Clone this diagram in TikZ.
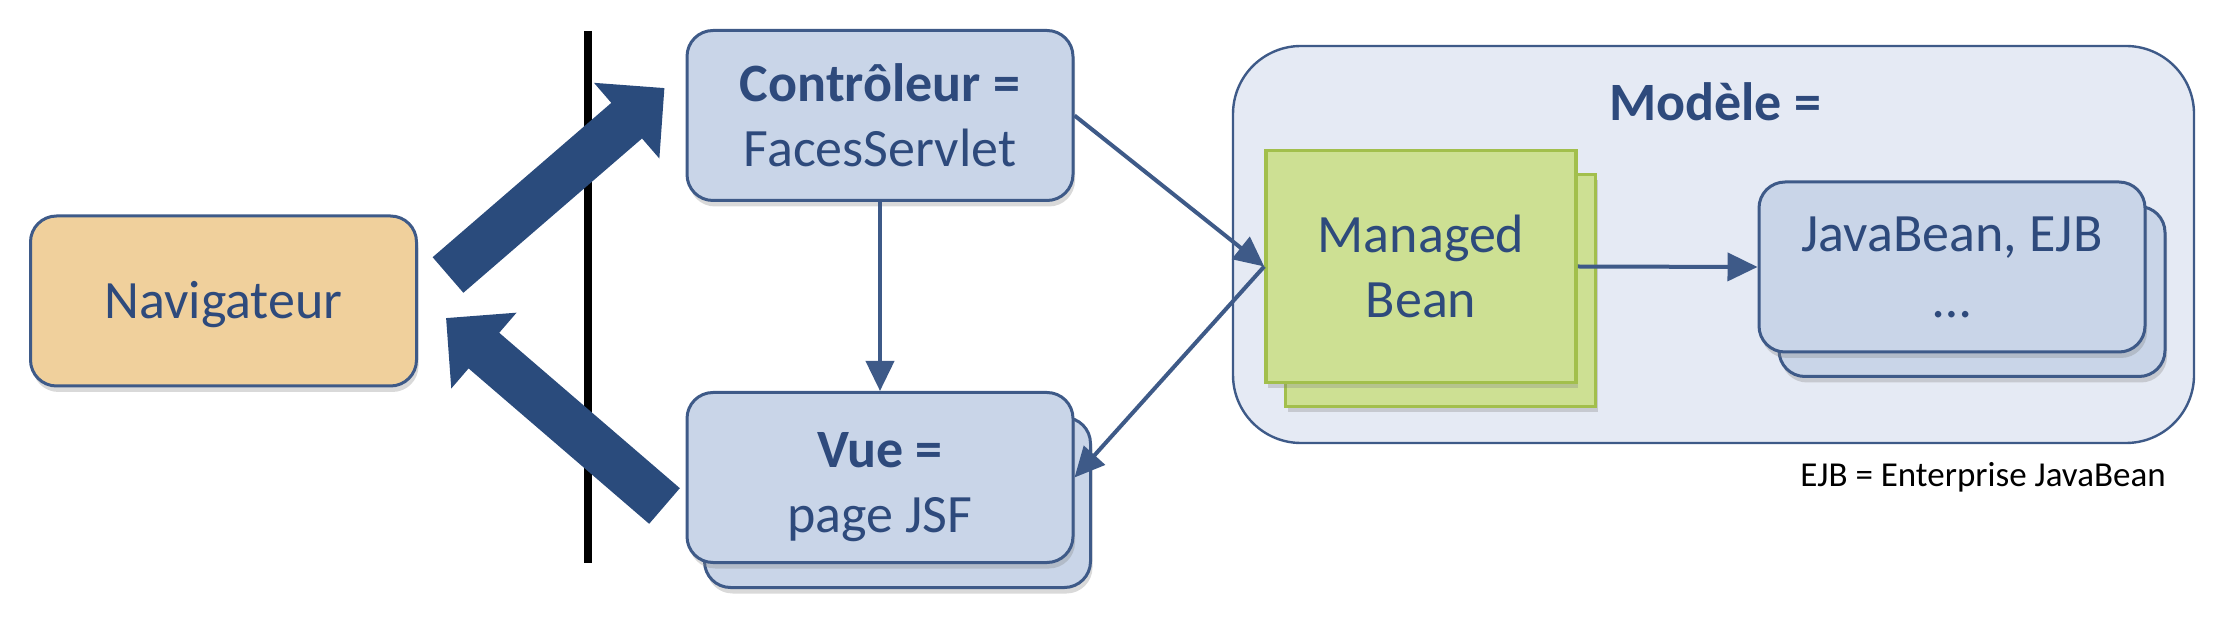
\documentclass[tikz,border=0pt]{standalone}
\usepackage{fontspec}
\setmainfont{Carlito}
\usetikzlibrary{arrows.meta,shadows,calc}
\definecolor{txtblue}{HTML}{2E4A7C}
\definecolor{edgeblue}{HTML}{3E5A88}
\definecolor{arrowblue}{HTML}{2A4B7C}
\definecolor{boxblue}{HTML}{C9D5E8}
\definecolor{modelfill}{HTML}{E5EAF4}
\definecolor{navfill}{HTML}{F0D09C}
\definecolor{beanfill}{HTML}{CDE093}
\definecolor{beanedge}{HTML}{A2BF4C}
\newcommand\bigfont{\fontsize{27}{32.5}\selectfont}
\newcommand\notefont{\fontsize{17.5}{21}\selectfont}
\tikzset{
  shad/.style={drop shadow={opacity=0.3,shadow xshift=1pt,shadow yshift=-3pt}},
  bluebox/.style={draw=edgeblue,line width=1.5pt,fill=boxblue,rounded corners=13pt,
    minimum width=386*0.5pt,minimum height=170*0.5pt,text=txtblue,align=center,inner sep=0pt,
    font=\bigfont,shad},
  navbox/.style={bluebox,fill=navfill},
  beanbox/.style={draw=beanedge,line width=1.8pt,fill=beanfill,
    minimum width=310*0.5pt,minimum height=232*0.5pt,text=txtblue,align=center,inner sep=0pt,
    font=\bigfont,shad},
  modelbox/.style={draw=edgeblue,line width=1.2pt,fill=modelfill,rounded corners=34pt,
    minimum width=961*0.5pt,minimum height=397*0.5pt},
  bigarrow/.style={draw=arrowblue,line width=23.5pt,
    -{Triangle[length=25pt,width=48.5pt]},
    drop shadow={opacity=0.25,shadow xshift=1pt,shadow yshift=-2pt}},
  thin/.style={draw=edgeblue,line width=2pt,-{Triangle[length=15pt,width=14pt]}},
}
\begin{document}
\begin{tikzpicture}[x=0.5pt,y=-0.5pt]
\useasboundingbox (0,0) rectangle (2226,624);
% separator line
\draw[line width=4.2pt,black] (588,31) -- (588,563);
% model container
\node[modelbox] (model) at (1713.5,244.5) {};
\node[text=txtblue,font=\bigfont\bfseries] (modeltitle) at (1715,102) {Modèle =};
% stacked boxes
\node[beanbox] (beanback) at (1440.5,290.5) {};
\node[beanbox] (bean) at (1421,266.5) {Managed\\Bean};
\node[bluebox] (jbback) at (1972,291.5) {};
\node[bluebox] (jb) at (1952,267) {JavaBean, EJB\\[0.5pt]\dots};
\node[bluebox] (vueback) at (897.5,502.5) {};
\node[bluebox] (vue) at (880,477.5) {\rule{0pt}{27pt}\textbf{Vue =}\\page JSF};
\node[bluebox] (ctrl) at (880,115.5) {\textbf{Contrôleur =}\\FacesServlet};
\node[navbox] (nav) at (223.5,301) {\rule{0pt}{22pt}Navigateur};
% footnote
\node[anchor=north east,font=\notefont,text=black,inner sep=0pt] (note) at (2166,462) {EJB = Enterprise JavaBean};
% thin arrows
\draw[thin] (ctrl.south) -- (vue.north);
\draw[thin] (ctrl.east) -- (bean.west);
\draw[thin] (bean.west) -- (vue.east);
\draw[thin] (bean.east) -- (jb.west);
% big arrows
\coordinate (a1s) at ($(nav.east)+(30,-26)$);
\coordinate (a1e) at ($(ctrl.west)+(-21,-27.5)$);
\coordinate (a2s) at ($(vue.west)+(-21,28.5)$);
\coordinate (a2e) at ($(nav.east)+(28,17)$);
\draw[bigarrow] (a1s) -- (a1e);
\draw[bigarrow] (a2s) -- (a2e);
\end{tikzpicture}
\end{document}
